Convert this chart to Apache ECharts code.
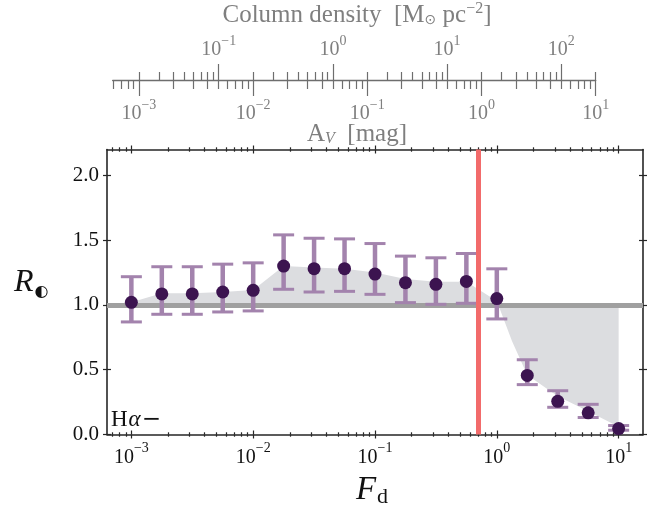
<!DOCTYPE html>
<html><head><meta charset="utf-8">
<script src="https://cdn.jsdelivr.net/npm/echarts@6/dist/echarts.min.js"></script>
<style>html,body{margin:0;padding:0;background:#fff}#c{width:657px;height:507px}</style>
</head><body><div id="c"></div>
<script>
// ---- data ----
const fdValues = [0.001, 0.001778, 0.003162, 0.005623, 0.01, 0.01778, 0.03162, 0.05623, 0.1, 0.1778, 0.3162, 0.5623, 1, 1.778, 3.162, 5.623, 10];
const rValues  = [1.02, 1.085, 1.085, 1.10, 1.113, 1.30, 1.28, 1.28, 1.238, 1.172, 1.159, 1.182, 1.049, 0.456, 0.256, 0.167, 0.046];
const errLow   = [0.869, 0.928, 0.928, 0.946, 0.954, 1.121, 1.10, 1.105, 1.082, 1.018, 1.005, 1.013, 0.892, 0.385, 0.21, 0.131, 0.033];
const errHigh  = [1.218, 1.295, 1.295, 1.315, 1.325, 1.541, 1.515, 1.51, 1.474, 1.377, 1.364, 1.397, 1.279, 0.577, 0.338, 0.233, 0.069];
const fillFd   = [0.001, 0.001778, 0.003162, 0.005623, 0.01, 0.01778, 0.03162, 0.05623, 0.1, 0.1778, 0.3162, 0.5623, 1, 1.334, 1.778, 3.162, 5.623, 10];
const fillR    = [1.02, 1.09, 1.09, 1.10, 1.115, 1.30, 1.29, 1.28, 1.25, 1.20, 1.18, 1.18, 1.03, 0.72, 0.46, 0.295, 0.18, 0.06];
const refLineR = 1.0;
const threshFd = 0.7;
const fdTicks  = [0.001, 0.01, 0.1, 1, 10];
const yTicks   = [0, 0.5, 1.0, 1.5, 2.0];
const avTicks  = [0.001, 0.01, 0.1, 1, 10];
const cdTicks  = [0.1, 1, 10, 100];
const fdMin = Math.pow(10, -3.2), fdMax = Math.pow(10, 1.2);
const avMin = 5.9e-4, avMax = 10;
const cdPerAv = 20;

function minorTicks(lo, hi) {
  const out = [];
  for (let e = Math.floor(Math.log10(lo)) ; e <= Math.ceil(Math.log10(hi)); e++) {
    for (let m = 2; m <= 9; m++) {
      const v = m * Math.pow(10, e);
      if (v >= lo * 0.9999 && v <= hi * 1.0001) out.push(+v.toPrecision(6));
    }
  }
  return out;
}
const fdMinor = minorTicks(fdMin, fdMax);
const avMinor = minorTicks(avMin, avMax);
const cdMinor = minorTicks(avMin * cdPerAv, avMax * cdPerAv);

const SERIF = '"Liberation Serif", "DejaVu Serif", serif';
const AXC = '#262626', GR = '#7f7f7f';

function powLabel(v) {
  const e = Math.round(Math.log10(v));
  return '{b|10}{s|' + (e < 0 ? '\u2212' : '') + Math.abs(e) + '}';
}
function powRich(color, size) {
  return {
    b: {fontFamily: SERIF, fontSize: size, color: color, lineHeight: size + 6, verticalAlign: 'bottom'},
    s: {fontFamily: SERIF, fontSize: Math.round(size * 0.72), color: color, lineHeight: Math.round(size * 0.72), verticalAlign: 'top'}
  };
}

function mainX(pos, vals, inside, len, showLine, showLabel) {
  return {
    gridIndex: 0, type: 'log', position: pos, min: fdMin, max: fdMax, logBase: 10,
    axisLine: {show: showLine, onZero: false, lineStyle: {color: AXC, width: 1.6}},
    axisTick: {show: true, customValues: vals, inside: inside, length: len, lineStyle: {color: AXC, width: 1.2}},
    minorTick: {show: false}, splitLine: {show: false},
    axisLabel: showLabel ? {show: true, customValues: fdTicks, margin: 7, formatter: powLabel, rich: powRich('#111', 20)} : {show: false}
  };
}
function mainY(pos, inside, showLine, showLabel) {
  return {
    gridIndex: 0, type: 'value', position: pos, min: 0, max: 2.2,
    axisLine: {show: showLine, onZero: false, lineStyle: {color: AXC, width: 1.6}},
    axisTick: {show: true, customValues: yTicks, inside: inside, length: 4, lineStyle: {color: AXC, width: 1.2}},
    splitLine: {show: false},
    axisLabel: showLabel ? {show: true, customValues: yTicks, margin: 8, fontFamily: SERIF, fontSize: 21, color: '#111',
      formatter: v => v.toFixed(1)} : {show: false}
  };
}
function topX(pos, min, max, vals, len, showLine, labelVals, margin) {
  return {
    gridIndex: 1, type: 'log', position: pos, min: min, max: max, logBase: 10,
    axisLine: {show: showLine, onZero: false, lineStyle: {color: '#6e6e6e', width: 1.4}},
    axisTick: {show: true, customValues: vals, inside: false, length: len, lineStyle: {color: '#6e6e6e', width: 1.2}},
    minorTick: {show: false}, splitLine: {show: false},
    axisLabel: labelVals ? {show: true, customValues: labelVals, margin: margin, formatter: powLabel, rich: powRich(GR, 20)} : {show: false}
  };
}

const chart = echarts.init(document.getElementById('c'), null, {renderer: 'canvas'});
const option = {
  animation: false,
  backgroundColor: '#fff',
  grid: [
    {left: 107, right: 14, top: 149.5, bottom: 72.5},
    {left: 112.7, width: 483, top: 80, height: 0.01}
  ],
  xAxis: [
    mainX('bottom', fdTicks, false, 4, true, true),
    mainX('bottom', fdTicks, true, 4, false, false),
    mainX('bottom', fdMinor, false, 2.2, false, false),
    mainX('bottom', fdMinor, true, 2.2, false, false),
    mainX('top', fdTicks, false, 4, true, false),
    mainX('top', fdTicks, true, 4, false, false),
    mainX('top', fdMinor, false, 2.2, false, false),
    mainX('top', fdMinor, true, 2.2, false, false),
    topX('bottom', avMin, avMax, avTicks, 16, true, avTicks, 18),
    topX('bottom', avMin, avMax, avMinor, 9, false, null, 0),
    topX('top', avMin * cdPerAv, avMax * cdPerAv, cdTicks, 16, false, cdTicks, 20),
    topX('top', avMin * cdPerAv, avMax * cdPerAv, cdMinor, 8, false, null, 0)
  ],
  yAxis: [
    mainY('left', false, true, true),
    mainY('left', true, false, false),
    mainY('right', false, true, false),
    mainY('right', true, false, false),
    {gridIndex: 1, type: 'value', show: false, min: 0, max: 1}
  ],
  graphic: [
    {type: 'text', x: 357, y: 15, z: 10, style: {
      text: '{t|Column density  [M}{sub|\u2299}{t| pc}{sup|\u22122}{t|]}', fill: GR,
      fontFamily: SERIF, fontSize: 25, align: 'center', verticalAlign: 'middle',
      rich: {t: {fontFamily: SERIF, fontSize: 25, fill: GR, color: GR},
             sub: {fontFamily: '"DejaVu Sans"', fontSize: 14, fill: GR, color: GR, padding: [10, 0, 0, 0]},
             sup: {fontFamily: SERIF, fontSize: 16, fill: GR, color: GR, verticalAlign: 'top', padding: [0, 0, 12, 0]}}
    }},
    {type: 'text', x: 357, y: 134, z: 10, style: {
      text: '{t|A}{sub|V}{t|  [mag]}', fill: GR, fontFamily: SERIF, fontSize: 25, align: 'center', verticalAlign: 'middle',
      rich: {t: {fontFamily: SERIF, fontSize: 25, fill: GR, color: GR},
             sub: {fontFamily: SERIF, fontStyle: 'italic', fontSize: 16, fill: GR, color: GR, padding: [10, 0, 0, 0]}}
    }},
    {type: 'text', x: 14, y: 283, z: 10, style: {
      text: '{r|R}{c|\u25D0}', fill: '#111', align: 'left', verticalAlign: 'middle',
      rich: {r: {fontFamily: SERIF, fontStyle: 'italic', fontSize: 32, color: '#111', fill: '#111'},
             c: {fontFamily: '"DejaVu Sans"', fontSize: 16, color: '#111', fill: '#111', padding: [18, 0, 0, 1]}}
    }},
    {type: 'text', x: 372, y: 490, z: 10, style: {
      text: '{f|F}{d|d}', fill: '#111', align: 'center', verticalAlign: 'middle',
      rich: {f: {fontFamily: SERIF, fontStyle: 'italic', fontSize: 33, color: '#111', fill: '#111'},
             d: {fontFamily: SERIF, fontSize: 22, color: '#111', fill: '#111', padding: [14, 0, 0, 1]}}
    }},
    {type: 'text', x: 111, y: 420, z: 10, style: {
      text: '{t|H}{a|\u03B1}{m|\u2212}', fill: '#111', fontFamily: SERIF, fontSize: 23, align: 'left', verticalAlign: 'middle',
      rich: {t: {fontFamily: SERIF, fontSize: 23, color: '#111', fill: '#111'},
             a: {fontFamily: SERIF, fontStyle: 'italic', fontSize: 23, color: '#111', fill: '#111', padding: [0, 1, 0, 1]},
             m: {fontFamily: '"DejaVu Serif"', fontSize: 23, color: '#111', fill: '#111'}}
    }}
  ],
  series: [
    {
      type: 'line', xAxisIndex: 0, yAxisIndex: 0, z: 1, silent: true,
      data: fillFd.map((x, i) => [x, fillR[i]]),
      showSymbol: false, symbol: 'none',
      lineStyle: {width: 0, opacity: 0},
      areaStyle: {color: '#dcdde0', opacity: 1, origin: refLineR}
    },
    {
      type: 'line', xAxisIndex: 0, yAxisIndex: 0, data: [], silent: true,
      markLine: {silent: true, symbol: 'none', z: 2, animation: false, label: {show: false},
        data: [{yAxis: refLineR, lineStyle: {color: '#a0a0a0', width: 5, type: 'solid'}}]}
    },
    {
      type: 'custom', xAxisIndex: 0, yAxisIndex: 0, z: 5, silent: true,
      data: fdValues.map((x, i) => [x, errLow[i], errHigh[i]]),
      encode: {x: 0, y: [1, 2]},
      renderItem: function (params, api) {
        const x = api.value(0), lo = api.value(1), hi = api.value(2);
        const pL = api.coord([x, lo]), pH = api.coord([x, hi]);
        const cw = 10.5, col = '#a383ad';
        return {type: 'group', children: [
          {type: 'line', shape: {x1: pL[0], y1: pL[1], x2: pH[0], y2: pH[1]}, style: {stroke: col, lineWidth: 4.5}},
          {type: 'line', shape: {x1: pL[0] - cw, y1: pL[1], x2: pL[0] + cw, y2: pL[1]}, style: {stroke: col, lineWidth: 3}},
          {type: 'line', shape: {x1: pH[0] - cw, y1: pH[1], x2: pH[0] + cw, y2: pH[1]}, style: {stroke: col, lineWidth: 3}}
        ]};
      }
    },
    {
      type: 'scatter', xAxisIndex: 0, yAxisIndex: 0, z: 6, silent: true,
      data: fdValues.map((x, i) => [x, rValues[i]]),
      symbol: 'circle', symbolSize: 13, itemStyle: {color: '#3c1450', opacity: 1}
    },
    {
      type: 'line', xAxisIndex: 0, yAxisIndex: 0, data: [], silent: true,
      markLine: {silent: true, symbol: 'none', z: 7, animation: false, label: {show: false},
        data: [{xAxis: threshFd, lineStyle: {color: '#f26b6b', width: 5, type: 'solid'}}]}
    }
  ]
};
chart.setOption(option);
</script>
</body></html>
